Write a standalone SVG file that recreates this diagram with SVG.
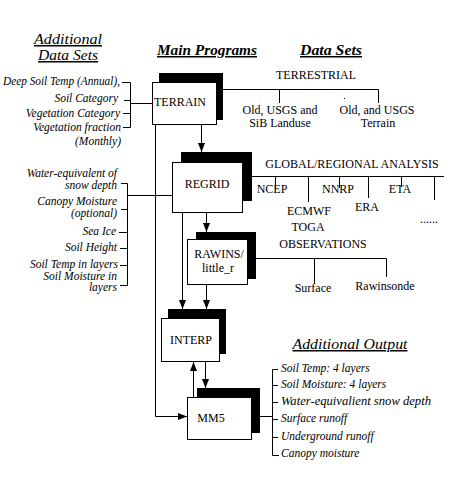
<svg xmlns="http://www.w3.org/2000/svg" width="469" height="480" viewBox="0 0 469 480">
<style>
.t{font-family:"Liberation Serif","Times New Roman",serif;font-size:12px;fill:#000}
.i{font-family:"Liberation Serif","Times New Roman",serif;font-size:11.5px;font-style:italic;fill:#000}
.h{font-family:"Liberation Serif","Times New Roman",serif;font-size:15px;font-style:italic;text-decoration:underline;fill:#000}
.hb{font-family:"Liberation Serif","Times New Roman",serif;font-size:15px;font-style:italic;font-weight:bold;text-decoration:underline;fill:#000}
.ln{fill:none;stroke:#000;stroke-width:1}
.sh{fill:#000}
.bx{fill:#fff;stroke:#000;stroke-width:1}
.m{text-anchor:middle}
.e{text-anchor:end}
</style>
<defs>
<marker id="ah" markerUnits="userSpaceOnUse" markerWidth="10" markerHeight="10" refX="9" refY="4" orient="auto">
<path d="M0,0.5 L9,4 L0,7.5 z" fill="#000"/>
</marker>
</defs>
<rect width="469" height="480" fill="#fff"/>

<g id="headings">
<text class="h m" x="68" y="44" textLength="68" lengthAdjust="spacingAndGlyphs">Additional</text>
<text class="h m" x="68" y="60" textLength="60" lengthAdjust="spacingAndGlyphs">Data Sets</text>
<text class="hb m" x="207" y="55" textLength="100" lengthAdjust="spacingAndGlyphs">Main Programs</text>
<text class="hb m" x="331" y="55" textLength="62" lengthAdjust="spacingAndGlyphs">Data Sets</text>
<text class="h m" x="350" y="349" textLength="115" lengthAdjust="spacingAndGlyphs">Additional Output</text>
</g>

<g id="connectors">
<path class="ln" d="M122,82.5H130.5V127.5H123 M130.5,100.5H124 M130.5,113.5H123 M130,103.5H152"/>
<path class="ln" d="M121,183.5H127.5V285.5H120 M127.5,209.5H121 M127.5,232.5H119 M127.5,248.5H120 M127.5,265.5H120 M127,195.5H172"/>
<path class="ln" d="M223,89.5H378.5V103 M279.5,89.5V103"/>
<rect x="344" y="98" width="1" height="1" fill="#000"/>
<path class="ln" d="M252,176.5H444 M275.5,176.5V190 M308.5,176.5V202 M339.5,176.5V188 M368.5,176.5V198 M401.5,176.5V187 M434.5,176.5V200"/>
<path class="ln" d="M256,258.5H386.5V277 M314.5,258.5V284"/>
<path class="ln" d="M260,416.5H272.5 M278,369.5H272.5V455.5H279 M272.5,385.5H278 M272.5,402.5H278 M272.5,419.5H278 M272.5,437.5H278"/>
<path class="ln" d="M201.5,125V152" marker-end="url(#ah)"/>
<path class="ln" d="M206.5,213V232" marker-end="url(#ah)"/>
<path class="ln" d="M182.5,213V309" marker-end="url(#ah)"/>
<path class="ln" d="M206.5,285V309" marker-end="url(#ah)"/>
<path class="ln" d="M205.5,362V388" marker-end="url(#ah)"/>
<path class="ln" d="M193.5,397V362" marker-end="url(#ah)"/>
<path class="ln" d="M155.5,125V416.5H187" marker-end="url(#ah)"/>
</g>

<g id="terrain">
<rect class="sh" x="159" y="73" width="64" height="47"/>
<rect class="bx" x="152.5" y="82.5" width="64" height="42"/>
<text class="t m" x="180" y="106">TERRAIN</text>
</g>
<g id="regrid">
<rect class="sh" x="181" y="152" width="71" height="49"/>
<rect class="bx" x="172.5" y="162.5" width="70" height="50"/>
<text class="t m" x="207" y="188">REGRID</text>
</g>
<g id="rawins">
<rect class="sh" x="196" y="232" width="60" height="47"/>
<rect class="bx" x="187.5" y="239.5" width="60" height="45"/>
<text class="t m" x="219" y="258">RAWINS/</text>
<text class="t m" x="218" y="272">little_r</text>
</g>
<g id="interp">
<rect class="sh" x="168" y="309" width="58" height="45"/>
<rect class="bx" x="161.5" y="318.5" width="58" height="43"/>
<text class="t m" x="191" y="344">INTERP</text>
</g>
<g id="mm5">
<rect class="sh" x="197" y="388" width="63" height="45"/>
<rect class="bx" x="187.5" y="397.5" width="64" height="42"/>
<text class="t m" x="211" y="422">MM5</text>
</g>

<g id="left-datasets-1">
<text class="i e" x="120" y="85" textLength="117" lengthAdjust="spacingAndGlyphs">Deep Soil Temp (Annual),</text>
<text class="i e" x="118" y="102">Soil Category</text>
<text class="i e" x="120" y="117">Vegetation Category</text>
<text class="i e" x="121" y="131">Vegetation fraction</text>
<text class="i e" x="121" y="145">(Monthly)</text>
</g>
<g id="left-datasets-2">
<text class="i e" x="117" y="177">Water-equivalent of</text>
<text class="i e" x="117" y="189">snow depth</text>
<text class="i e" x="117" y="205">Canopy Moisture</text>
<text class="i e" x="117" y="217">(optional)</text>
<text class="i e" x="116" y="235">Sea Ice</text>
<text class="i e" x="117" y="251">Soil Height</text>
<text class="i e" x="118" y="268">Soil Temp in layers</text>
<text class="i e" x="117" y="280">Soil Moisture in</text>
<text class="i e" x="117" y="291">layers</text>
</g>
<g id="terrestrial">
<text class="t m" x="316" y="79">TERRESTRIAL</text>
<text class="t m" x="280" y="114">Old, USGS and</text>
<text class="t m" x="280" y="127">SiB Landuse</text>
<text class="t m" x="377" y="114">Old, and USGS</text>
<text class="t m" x="378" y="127">Terrain</text>
</g>
<g id="global">
<text class="t m" x="352" y="168">GLOBAL/REGIONAL ANALYSIS</text>
<text class="t m" x="272" y="193">NCEP</text>
<text class="t m" x="309" y="215">ECMWF</text>
<text class="t m" x="308" y="231">TOGA</text>
<text class="t m" x="338" y="193">NNRP</text>
<text class="t m" x="367" y="211">ERA</text>
<text class="t m" x="400" y="193">ETA</text>
<text class="t m" x="429" y="223">......</text>
</g>
<g id="observations">
<text class="t m" x="323" y="248">OBSERVATIONS</text>
<text class="t m" x="313" y="292">Surface</text>
<text class="t m" x="385" y="290">Rawinsonde</text>
</g>
<g id="additional-output">
<text class="i" x="281" y="372">Soil Temp: 4 layers</text>
<text class="i" x="281" y="388">Soil Moisture: 4 layers</text>
<text class="i" x="281" y="405" textLength="150" lengthAdjust="spacingAndGlyphs">Water-equivalient snow depth</text>
<text class="i" x="281" y="422">Surface runoff</text>
<text class="i" x="281" y="440">Underground runoff</text>
<text class="i" x="281" y="457">Canopy moisture</text>
</g>
</svg>
